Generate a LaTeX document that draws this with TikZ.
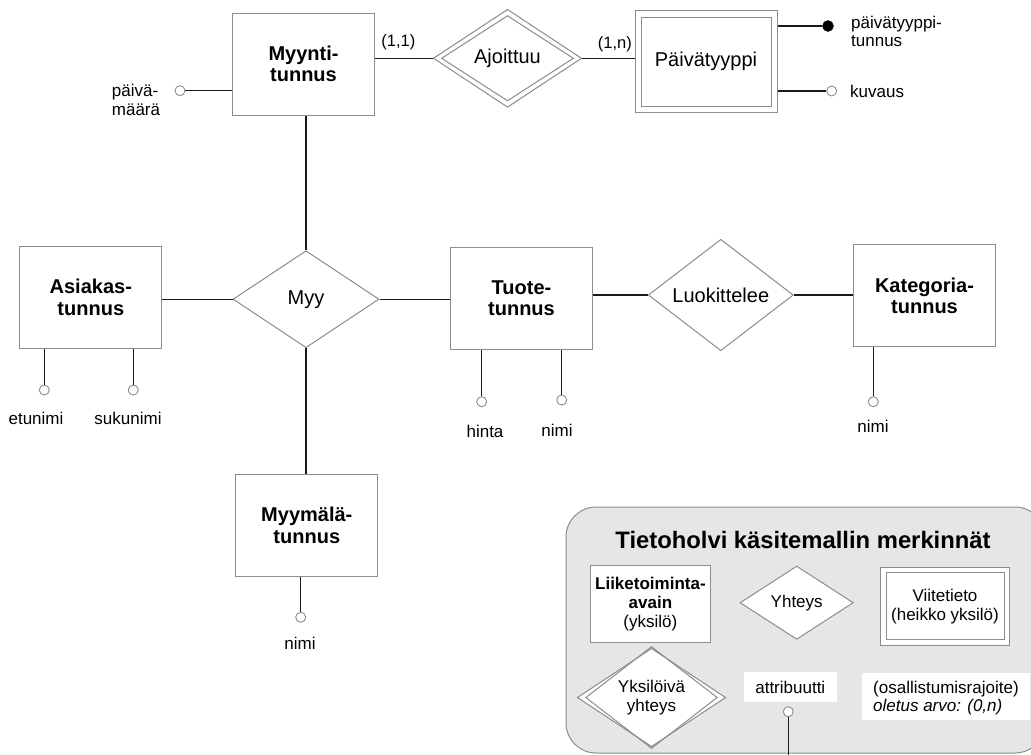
\documentclass[tikz,border=0pt]{standalone}
\usepackage{fontspec}
\setmainfont{Liberation Sans}
\usetikzlibrary{shapes.geometric}

\definecolor{edgegrey}{HTML}{8C8C8C}
\definecolor{linedark}{HTML}{1A1A1A}
\definecolor{legendfill}{HTML}{E6E6E6}

\tikzset{
  entity/.style={draw=edgegrey, line width=1pt, fill=white, minimum width=142, minimum height=102,
    inner sep=0, align=center, font=\fontsize{20}{21.5}\selectfont\bfseries},
  weakouter/.style={draw=edgegrey, line width=1pt, fill=white, inner sep=0},
  weakinner/.style={draw=edgegrey, line width=1pt, inner sep=0, align=center},
  relation/.style={shape=diamond, draw=edgegrey, line width=1pt, fill=white, minimum width=146,
    minimum height=97, inner sep=0, align=center, font=\fontsize{20}{21.5}\selectfont},
  reldiamond/.style={shape=diamond, draw=edgegrey, line width=1pt, inner sep=0, align=center},
  attr/.style={circle, draw=edgegrey, line width=0.9pt, fill=white, minimum size=10, inner sep=0},
  keyattr/.style={circle, draw=black, fill=black, minimum size=11, inner sep=0},
  attrlabel/.style={inner sep=0, font=\fontsize{17}{18.7}\selectfont},
  cardlabel/.style={inner sep=0, font=\fontsize{16.5}{18}\selectfont},
  link/.style={draw=linedark, line width=1.3pt},
  legendtext/.style={align=center, font=\fontsize{17}{19}\selectfont},
}

\begin{document}
\begin{tikzpicture}[x=1pt, y=-1pt]
\useasboundingbox (0,0) rectangle (1031,755);

% ---- legend panel ----
\path[draw=edgegrey, line width=1pt, fill=legendfill, rounded corners=30] (566,507) rectangle (1045,753);
\node[inner sep=0, font=\fontsize{23.8}{26}\selectfont\bfseries] (legtitle) at (803,540) {Tietoholvi käsitemallin merkinnät};
\node[entity, minimum width=120.7, minimum height=77.3, font=\fontsize{17}{19}\selectfont] (legent) at (650.4,603.7)
  {\textbf{Liiketoiminta-}\\\textbf{avain}\\(yksilö)};
\node[relation, minimum width=113.3, minimum height=73.3, font=\fontsize{17}{19}\selectfont] (legrel) at (796.7,602.7) {Yhteys};
\node[weakouter, minimum width=128.6, minimum height=77.7] (legweak) at (945,606.2) {};
\node[weakinner, minimum width=118, minimum height=66.6, legendtext] (legweakin) at (legweak.center) {Viitetieto\\(heikko yksilö)};
\node[reldiamond, fill=white, minimum width=148.4, minimum height=98.4] (legident) at (651.5,697.5) {};
\node[reldiamond, minimum width=131.6, minimum height=83, legendtext] (legidentin) at (legident.center) {Yksilöivä\\yhteys};
\node[fill=white, minimum width=92.7, minimum height=29.4, inner sep=0, font=\fontsize{17}{19}\selectfont] (legattr) at (790.3,687) {attribuutti};
\node[attr] (legattrc) at (788.3,711.7) {};
\coordinate (legattrend) at (788.3,756);
\draw[link] (legattrc) -- (legattrend);
\path[fill=white] (861.7,672.7) rectangle (1030,720);
\node[anchor=west, align=left, inner sep=0, font=\fontsize{17}{17.7}\selectfont] (legcard) at (873,698)
  {(osallistumisrajoite)\\\textit{oletus arvo: (0,n)}};

% ---- entities ----
\node[entity] (myynti) at (303.5,64) {Myynti-\\tunnus};
\node[entity] (asiakas) at (90.8,297.2) {Asiakas-\\tunnus};
\node[entity] (tuote) at (521.5,298.2) {Tuote-\\tunnus};
\node[entity] (kategoria) at (924.5,295.8) {Kategoria-\\tunnus};
\node[entity] (myymala) at (306.8,525.2) {Myymälä-\\tunnus};
\node[weakouter, minimum width=142, minimum height=101.7] (paiva) at (706,61.8) {};
\node[weakinner, minimum width=130, minimum height=89.3, font=\fontsize{20}{21.5}\selectfont] (paivain) at (paiva.center) {Päivätyyppi};

% ---- relationships ----
\node[relation] (myy) at (306,299.2) {Myy};
\node[relation, minimum width=145, minimum height=96.6] (luok) at (720.8,295) {Luokittelee};
\node[reldiamond, fill=white, minimum width=148.4, minimum height=98] (ajo) at (507.5,58.3) {};
\node[reldiamond, minimum width=132, minimum height=83, font=\fontsize{20}{21.5}\selectfont] (ajoin) at (ajo.center) {Ajoittuu};

% ---- relationship connectors ----
\draw[link] (ajo.west) -- (ajo.west -| myynti.east);
\draw[link] (ajo.east) -- (ajo.east -| paiva.west);
\draw[link] (myy.north) -- (myy.north |- myynti.south);
\draw[link] (myy.west) -- (myy.west -| asiakas.east);
\draw[link] (myy.east) -- (myy.east -| tuote.west);
\draw[link] (myy.south) -- (myy.south |- myymala.north);
\draw[link] (luok.west) -- (luok.west -| tuote.east);
\draw[link] (luok.east) -- (luok.east -| kategoria.west);

\node[cardlabel] (card11) at (398.3,42) {(1,1)};
\node[cardlabel] (card1n) at (614.8,44) {(1,n)};

% ---- attributes ----
\node[attr] (pvm) at (180,90.7) {};
\draw[link] (pvm) -- (pvm -| myynti.west);
\node[attrlabel, anchor=west, align=left] (pvmlab) at (111.7,100) {päivä-\\määrä};

\node[keyattr] (ptid) at (828,26) {};
\draw[link] (ptid) -- (ptid -| paiva.east);
\node[attrlabel, anchor=west, align=left] (ptidlab) at (851,31.3) {päivätyyppi-\\tunnus};

\node[attr] (kuv) at (831.7,91) {};
\draw[link] (kuv) -- (kuv -| paiva.east);
\node[attrlabel, anchor=west] (kuvlab) at (850,91) {kuvaus};

\node[attr] (etu) at (44.3,390) {};
\draw[link] (etu) -- (etu |- asiakas.south);
\node[attrlabel] (etulab) at (36,418) {etunimi};

\node[attr] (suku) at (133.3,390) {};
\draw[link] (suku) -- (suku |- asiakas.south);
\node[attrlabel] (sukulab) at (128,418) {sukunimi};

\node[attr] (hinta) at (481.7,401.7) {};
\draw[link] (hinta) -- (hinta |- tuote.south);
\node[attrlabel] (hintalab) at (485,431.7) {hinta};

\node[attr] (tnimi) at (561.7,400) {};
\draw[link] (tnimi) -- (tnimi |- tuote.south);
\node[attrlabel] (tnimilab) at (557,430) {nimi};

\node[attr] (knimi) at (873.3,401.7) {};
\draw[link] (knimi) -- (knimi |- kategoria.south);
\node[attrlabel] (knimilab) at (873,426.7) {nimi};

\node[attr] (mnimi) at (300.7,617.3) {};
\draw[link] (mnimi) -- (mnimi |- myymala.south);
\node[attrlabel] (mnimilab) at (300,643.3) {nimi};
\end{tikzpicture}
\end{document}
